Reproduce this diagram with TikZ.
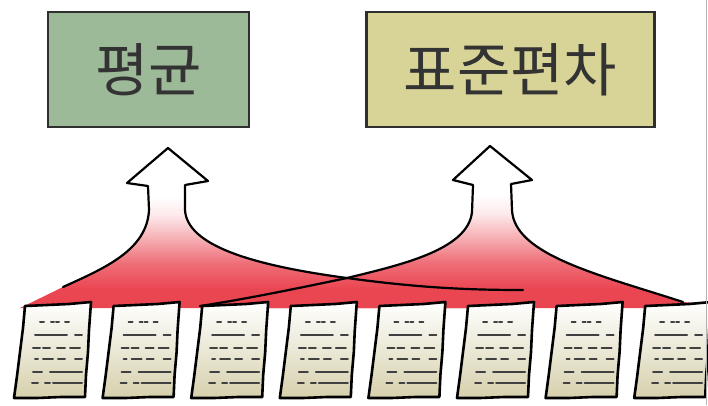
\documentclass[tikz,border=0pt]{standalone}
\usepackage{fontspec}
\setmainfont{Noto Sans CJK KR}

\definecolor{meangreen}{RGB}{157,186,152}
\definecolor{devyellow}{RGB}{216,211,150}
\definecolor{boxedge}{RGB}{47,47,47}
\definecolor{fanred}{RGB}{234,70,82}
\definecolor{pagetan}{RGB}{214,208,172}

% white at the arrow heads, red towards the sheets
\pgfdeclareverticalshading{fanshade}{100bp}{color(0bp)=(fanred); color(31bp)=(fanred);
    color(39bp)=(fanred!78); color(47bp)=(fanred!42); color(54bp)=(fanred!12);
    color(60bp)=(white); color(100bp)=(white)}

\tikzset{
    statbox/.style={draw=boxedge, line width=2.4pt, inner sep=0pt,
        text=black!80, font=\fontsize{58}{66}\selectfont},
    fanfill/.style={shading=fanshade},
    fanline/.style={draw=black, line width=2.2pt, line cap=round, line join=round},
    pagesheet/.style={draw=black, line width=2.6pt, line join=round,
        top color=white, bottom color=pagetan},
    textmark/.style={draw=black!75, line width=2pt, line cap=round}
}

\begin{document}
\begin{tikzpicture}[x=1pt, y=-1pt]
    \useasboundingbox (0,0) rectangle (708,405);
    \clip (0,0) rectangle (708,405);
    \fill[white] (0,0) rectangle (708,405);

    % the two statistics
    \node[statbox, fill=meangreen, minimum width=201pt, minimum height=115pt] (mean) at (148.5,69.5) {평균};
    \node[statbox, fill=devyellow, minimum width=288pt, minimum height=115pt] (stddev) at (510.5,69.5) {표준편차};

    % red fans under the arrows
    \shade[fanfill] (20,308) -- (63,287) .. controls (105,268) and (147,250) .. (149,210)
        -- (148,186) -- (127,183) -- (168,148) -- (208,181) -- (185,185) -- (185,210)
        .. controls (187,245) and (250,265) .. (347,278)
        .. controls (420,288) and (470,290) .. (523,290) -- (523,308) -- cycle;
    \shade[fanfill] (200,308) -- (200,306) .. controls (240,300) and (290,290) .. (347,278)
        .. controls (400,265) and (468,250) .. (472,212) -- (473,185) -- (453,180)
        -- (490,146) -- (532,180) -- (511,184) -- (512,210)
        .. controls (514,255) and (600,275) .. (683,302) -- (708,304) -- (708,308) -- cycle;

    % arrow outlines
    \draw[fanline] (63,287) .. controls (105,268) and (147,250) .. (149,210)
        -- (148,186) -- (127,183) -- (168,148) -- (208,181) -- (185,185) -- (185,210)
        .. controls (187,245) and (250,265) .. (347,278)
        .. controls (420,288) and (470,290) .. (523,290);
    \draw[fanline] (200,306) .. controls (240,300) and (290,290) .. (347,278)
        .. controls (400,265) and (468,250) .. (472,212) -- (473,185) -- (453,180)
        -- (490,146) -- (532,180) -- (511,184) -- (512,210)
        .. controls (514,255) and (600,275) .. (683,302);

    % data sheets
    \foreach \i in {0,...,7}{
        \begin{scope}[shift={(25+88.6*\i,0)}]
            \path[pagesheet] (0,306) -- (22,305) -- (44,304) -- (66,302) -- (64,330)
                -- (63,352) -- (61,375) -- (60,397) -- (36,397) -- (12,398) -- (-11,398)
                -- (-8,376) -- (-5,352) -- (-2,328) -- cycle;
            \foreach \y/\a/\b in {322/15/19, 322/26/29, 322/31/34, 322/40/44,
                    335/10/42, 335/50/57,
                    348/8/15, 348/18/25, 348/32/40, 348/45/55,
                    359/10/13, 359/18/28, 359/33/40, 359/50/57,
                    372/8/17, 372/25/57,
                    383/7/13, 383/20/25, 383/28/57}
                \draw[textmark] (\a,\y) -- (\b,\y);
        \end{scope}
    }

    % edge line on the right
    \draw[black!30, line width=1pt] (706,0) -- (706,405);
\end{tikzpicture}
\end{document}
